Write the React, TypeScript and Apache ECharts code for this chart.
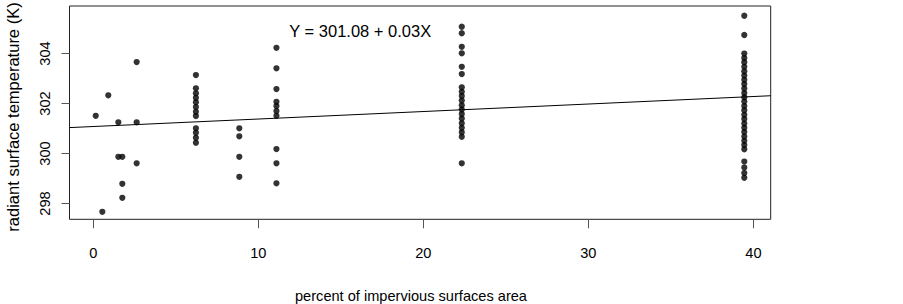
import React, { useEffect, useRef } from "react";
import * as echarts from "echarts";

// Percent of impervious surface area per site, with radiant surface temperatures (K)
const siteX = [0.15, 0.55, 0.91, 1.52, 1.76, 2.63, 6.22, 8.85, 11.1, 22.33, 39.45];
const siteTemps: number[][] = [
  [301.51],
  [297.67],
  [302.33],
  [301.25, 299.87],
  [299.87, 298.79, 298.23],
  [303.66, 301.25, 299.61],
  [303.14, 302.61, 302.41, 302.23, 302.05, 301.86, 301.67, 301.5, 301.01, 300.83, 300.63, 300.43],
  [301.01, 300.69, 299.87, 299.07],
  [304.23, 303.41, 302.58, 302.07, 301.9, 301.7, 301.51, 300.18, 299.61, 298.81],
  [305.07, 304.81, 304.27, 304.01, 303.47, 303.18, 302.65, 302.47, 302.3, 302.12, 301.93, 301.76, 301.58, 301.4, 301.21, 301.03, 300.85, 300.67, 299.61],
  [305.51, 304.74, 304.0, 303.82, 303.65, 303.47, 303.29, 303.12, 302.95, 302.78, 302.6, 302.42, 302.25, 302.08, 301.9, 301.73, 301.55, 301.38, 301.2, 301.03, 300.86, 300.68, 300.51, 300.34, 300.17, 299.68, 299.44, 299.22, 299.03],
];

const xTicks = [0, 10, 20, 30, 40];
const yTicks = [298, 300, 302, 304];
const xRange = [-1.44, 41.05];
const yRange = [297.37, 305.9];

const intercept = 301.08;
const slope = 0.03;
const equationText = "Y = 301.08 + 0.03X";
const xTitle = "percent of impervious surfaces area";
const yTitle = "radiant surface temperature (K)";

const FONT = "'Liberation Sans', Arial, Helvetica, sans-serif";

export default function App() {
  const ref = useRef<HTMLDivElement>(null);

  useEffect(() => {
    if (!ref.current) return;
    const chart = echarts.init(ref.current, undefined, { renderer: "svg" });

    const points: number[][] = [];
    siteX.forEach((x, i) => siteTemps[i].forEach((t) => points.push([x, t])));
    const fitLine = xRange.map((x) => [x, intercept + slope * x]);

    chart.setOption({
      animation: false,
      backgroundColor: "#ffffff",
      grid: {
        left: 69.5,
        right: 132.3,
        top: 6,
        bottom: 84.7,
        show: true,
        borderColor: "#222",
        borderWidth: 1,
        backgroundColor: "transparent",
      },
      xAxis: {
        type: "value",
        min: xRange[0],
        max: xRange[1],
        axisLine: { show: false, onZero: false },
        splitLine: { show: false },
        axisTick: {
          show: true,
          length: 9,
          customValues: xTicks,
          lineStyle: { color: "#555", width: 1 },
        },
        axisLabel: {
          customValues: xTicks,
          margin: 26,
          color: "#000",
          fontSize: 14.6,
          fontFamily: FONT,
          formatter: (v: number) => String(v),
        },
      },
      yAxis: {
        type: "value",
        min: yRange[0],
        max: yRange[1],
        axisLine: { show: false, onZero: false },
        splitLine: { show: false },
        axisTick: {
          show: true,
          length: 8,
          customValues: yTicks,
          lineStyle: { color: "#555", width: 1 },
        },
        axisLabel: {
          customValues: yTicks,
          rotate: 90,
          margin: 17,
          color: "#000",
          fontSize: 14.6,
          fontFamily: FONT,
          formatter: (v: number) => String(v),
        },
      },
      graphic: [
        {
          type: "text",
          x: 289.3,
          y: 30.7,
          style: {
            text: equationText,
            fill: "#000",
            font: `16.5px ${FONT}`,
            textAlign: "left",
            textVerticalAlign: "middle",
          },
        },
        {
          type: "text",
          x: 411,
          y: 296,
          style: {
            text: xTitle,
            fill: "#000",
            font: `14.6px ${FONT}`,
            textAlign: "center",
            textVerticalAlign: "middle",
          },
        },
        {
          type: "text",
          x: 13,
          y: 117,
          rotation: Math.PI / 2,
          style: {
            text: yTitle,
            fill: "#000",
            font: `16.5px ${FONT}`,
            textAlign: "center",
            textVerticalAlign: "middle",
          },
        },
      ],
      series: [
        {
          type: "scatter",
          data: points,
          symbol: "circle",
          symbolSize: 6.2,
          itemStyle: { color: "#000" },
          silent: true,
        },
        {
          type: "line",
          data: fitLine,
          showSymbol: false,
          lineStyle: { color: "#000", width: 1 },
          silent: true,
        },
      ],
    });

    return () => chart.dispose();
  }, []);

  return (
    <div
      ref={ref}
      style={{ position: "fixed", left: 0, top: 0, width: 903, height: 304, background: "#fff" }}
    />
  );
}
